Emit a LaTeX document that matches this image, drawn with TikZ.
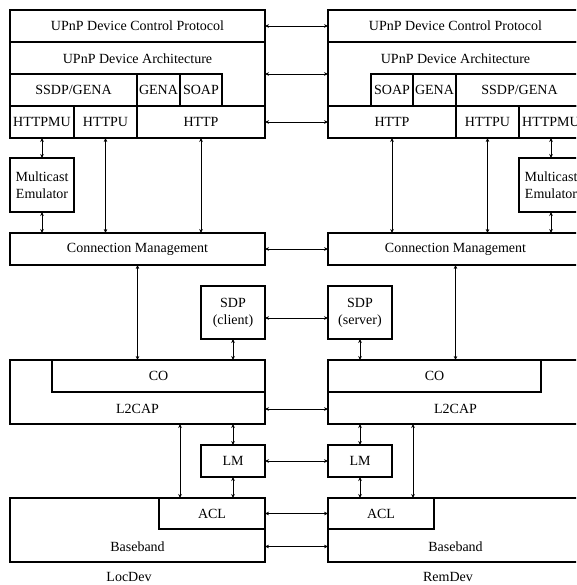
\documentclass[tikz,border=0pt]{standalone}
\usepackage{fontspec}
\setmainfont{Liberation Serif}
\usetikzlibrary{arrows.meta,calc}
% \blk{name}{x1}{y1}{x2}{y2}{text}: a framed block given by its corners
\newcommand\blk[6]{%
  \node[blk, minimum width={(#4-#2)*1pt}, minimum height={(#5-#3)*1pt}]
    (#1) at ({(#2+#4)/2},{(#3+#5)/2}) {#6};}
\begin{document}
\begin{tikzpicture}[x=1pt,y=-1pt,
  blk/.style={draw, line width=1.1pt, inner sep=0pt, outer sep=0pt,
    align=center, font=\fontsize{14}{17}\selectfont},
  txt/.style={inner sep=0pt, font=\fontsize{14}{17}\selectfont},
  link/.style={line width=0.7pt,
    {Stealth[length=4pt,width=3.6pt]}-{Stealth[length=4pt,width=3.6pt]}}]
\path[use as bounding box] (0,0) rectangle (576,585);
\clip (0,0) rectangle (576,585);

% ---------- local device stack ----------
\blk{dcpL}{10}{10}{265}{42}{UPnP Device Control Protocol}
\blk{daL}{10}{42}{265}{106}{}
\node[txt] (daLtxt) at (137.5,58.5) {UPnP Device Architecture};
\blk{ssdpL}{10}{74}{137}{106}{SSDP/GENA}
\blk{genaL}{137}{74}{180}{106}{GENA}
\blk{soapL}{180}{74}{222}{106}{SOAP}
\blk{httpmuL}{10}{106}{74}{138}{HTTPMU}
\blk{httpuL}{74}{106}{137}{138}{HTTPU}
\blk{httpL}{137}{106}{265}{138}{HTTP}
\blk{mcastL}{10}{158}{74}{212}{Multicast\\Emulator}
\blk{cmL}{10}{233}{265}{265}{Connection Management}
\blk{sdpL}{201}{286}{265}{339}{SDP\\(client)}
\blk{l2capL}{10}{360}{265}{424}{}
\node[txt] (l2capLtxt) at (137.5,409) {L2CAP};
\blk{coL}{52}{360}{265}{392}{CO}
\blk{lmL}{201}{445}{265}{477}{LM}
\blk{bbL}{10}{498}{265}{562}{}
\node[txt] (bbLtxt) at (137.5,546.5) {Baseband};
\blk{aclL}{159}{498}{265}{529}{ACL}
\node[txt] (locdev) at (129,577) {LocDev};

% ---------- remote device stack ----------
\blk{dcpR}{328}{10}{583}{42}{UPnP Device Control Protocol}
\blk{daR}{328}{42}{583}{106}{}
\node[txt] (daRtxt) at (455.5,58.5) {UPnP Device Architecture};
\blk{soapR}{371}{74}{413}{106}{SOAP}
\blk{genaR}{413}{74}{456}{106}{GENA}
\blk{ssdpR}{456}{74}{583}{106}{SSDP/GENA}
\blk{httpR}{328}{106}{456}{138}{HTTP}
\blk{httpuR}{456}{106}{519}{138}{HTTPU}
\blk{httpmuR}{519}{106}{583}{138}{HTTPMU}
\blk{mcastR}{519}{158}{583}{212}{Multicast\\Emulator}
\blk{cmR}{328}{233}{583}{265}{Connection Management}
\blk{sdpR}{328}{286}{392}{339}{SDP\\(server)}
\blk{l2capR}{328}{360}{583}{424}{}
\node[txt] (l2capRtxt) at (455.5,409) {L2CAP};
\blk{coR}{328}{360}{541}{392}{CO}
\blk{lmR}{328}{445}{392}{477}{LM}
\blk{bbR}{328}{498}{583}{562}{}
\node[txt] (bbRtxt) at (455.5,546.5) {Baseband};
\blk{aclR}{328}{498}{434}{529}{ACL}
\node[txt] (remdev) at (448,577) {RemDev};

% ---------- peer-to-peer links ----------
\draw[link] (dcpL.east) -- (dcpR.west);
\draw[link] (daL.east) -- (daR.west);
\draw[link] (httpL.east) -- (httpR.west);
\draw[link] (cmL.east) -- (cmR.west);
\draw[link] ([yshift=-5.5pt]sdpL.east) -- ([yshift=-5.5pt]sdpR.west);
\draw[link] (l2capL.east |- l2capLtxt) -- (l2capR.west |- l2capRtxt);
\draw[link] (lmL.east) -- (lmR.west);
\draw[link] (aclL.east) -- (aclR.west);
\draw[link] (bbL.east |- bbLtxt) -- (bbR.west |- bbRtxt);

% ---------- local vertical links ----------
\draw[link] (httpmuL.south) -- (mcastL.north);
\draw[link] (mcastL.south) -- (mcastL.south |- cmL.north);
\draw[link] (httpuL.south) -- (httpuL.south |- cmL.north);
\draw[link] (httpL.south) -- (httpL.south |- cmL.north);
\draw[link] (cmL.south) -- (cmL.south |- coL.north);
\draw[link] (sdpL.south) -- (sdpL.south |- coL.north);
\draw[link] ([xshift=21pt]aclL.north west |- l2capL.south) -- ([xshift=21pt]aclL.north west);
\draw[link] (lmL.north) -- (lmL.north |- l2capL.south);
\draw[link] (lmL.south) -- (lmL.south |- aclL.north);

% ---------- remote vertical links ----------
\draw[link] (httpmuR.south) -- (mcastR.north);
\draw[link] (mcastR.south) -- (mcastR.south |- cmR.north);
\draw[link] (httpuR.south) -- (httpuR.south |- cmR.north);
\draw[link] (httpR.south) -- (httpR.south |- cmR.north);
\draw[link] (cmR.south) -- (cmR.south |- coR.north);
\draw[link] (sdpR.south) -- (sdpR.south |- coR.north);
\draw[link] ([xshift=-21pt]aclR.north east |- l2capR.south) -- ([xshift=-21pt]aclR.north east);
\draw[link] (lmR.north) -- (lmR.north |- l2capR.south);
\draw[link] (lmR.south) -- (lmR.south |- aclR.north);
\end{tikzpicture}
\end{document}
